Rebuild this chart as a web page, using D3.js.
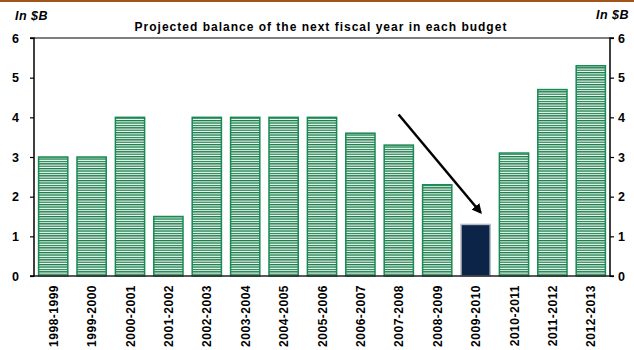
<!DOCTYPE html>
<html>
<head>
<meta charset="utf-8">
<script src="https://cdn.jsdelivr.net/npm/d3@7"></script>
<style>
  html, body { margin: 0; padding: 0; background: #fff; }
  svg { display: block; font-family: "Liberation Sans", Arial, sans-serif; }
</style>
</head>
<body>
<svg id="chart" width="634" height="350"></svg>
<script>
// Fiscal years and projected balance of the following year (in $B)
const years = ["1998-1999","1999-2000","2000-2001","2001-2002","2002-2003","2003-2004","2004-2005",
               "2005-2006","2006-2007","2007-2008","2008-2009","2009-2010","2010-2011","2011-2012","2012-2013"];
const balances = [3, 3, 4, 1.5, 4, 4, 4, 4, 3.6, 3.3, 2.3, 1.3, 3.1, 4.7, 5.3];
const highlightYear = "2009-2010";
const yTicks = [0, 1, 2, 3, 4, 5, 6];
const titleText = "Projected balance of the next fiscal year in each budget";
const unitText = "In $B";

const svg = d3.select("#chart");
const W = 634, H = 350;
const m = { left: 34, right: 24, top: 38, bottom: 74 };
const innerW = W - m.left - m.right;
const innerH = H - m.top - m.bottom;

// Horizontal stripe fill for the regular bars
const defs = svg.append("defs");
const pat = defs.append("pattern")
  .attr("id", "stripes")
  .attr("patternUnits", "userSpaceOnUse")
  .attr("width", 8).attr("height", 2.4);
pat.append("rect").attr("width", 8).attr("height", 2.4).attr("fill", "#fff");
pat.append("rect").attr("y", 0).attr("width", 8).attr("height", 1.3).attr("fill", "#137a46");

// Brown rule along the top edge
svg.append("line")
  .attr("x1", 0).attr("x2", W).attr("y1", 1).attr("y2", 1)
  .attr("stroke", "#a3561c").attr("stroke-width", 2);

const x = d3.scaleBand().domain(years).range([m.left, m.left + innerW]).paddingInner(0.2).paddingOuter(0.1);
const y = d3.scaleLinear().domain([0, 6]).range([m.top + innerH, m.top]);

// Bars
svg.append("g").selectAll("rect")
  .data(years.map((yr, i) => ({ yr, v: balances[i] })))
  .join("rect")
  .attr("x", d => x(d.yr) + 0.75)
  .attr("width", x.bandwidth() - 1.5)
  .attr("y", d => y(d.v))
  .attr("height", d => y(0) - y(d.v))
  .attr("fill", d => d.yr === highlightYear ? "#0b2448" : "url(#stripes)")
  .attr("stroke", d => d.yr === highlightYear ? "#b8bcc4" : "#178a52")
  .attr("stroke-width", 1.5);

// Plot frame: top border
svg.append("line")
  .attr("x1", m.left).attr("x2", m.left + innerW)
  .attr("y1", y(6)).attr("y2", y(6))
  .attr("stroke", "#000").attr("stroke-width", 1.2);

// Baseline
svg.append("line")
  .attr("x1", m.left).attr("x2", m.left + innerW)
  .attr("y1", y(0)).attr("y2", y(0))
  .attr("stroke", "#222").attr("stroke-width", 1.5);

// Left and right value axes
const leftAxis = d3.axisLeft(y).tickValues(yTicks).tickFormat(d3.format("d")).tickSize(4).tickPadding(11);
const rightAxis = d3.axisRight(y).tickValues(yTicks).tickFormat(d3.format("d")).tickSize(4).tickPadding(4);

function styleAxis(g) {
  g.select(".domain").attr("stroke", "#000").attr("stroke-width", 1.5);
  g.selectAll(".tick line").attr("stroke", "#000").attr("stroke-width", 1.2);
  g.selectAll(".tick text")
    .attr("fill", "#000").attr("font-size", 12.5).attr("font-weight", "bold")
    .attr("font-family", "Liberation Sans, Arial, sans-serif");
}
svg.append("g").attr("transform", `translate(${m.left},0)`).call(leftAxis).call(styleAxis)
  .call(g => g.select(".domain").attr("d", `M-4,${y(6)}H0V${y(0)}H-4`));
svg.append("g").attr("transform", `translate(${m.left + innerW},0)`).call(rightAxis).call(styleAxis)
  .call(g => g.select(".domain").attr("d", `M4,${y(6)}H0V${y(0)}H4`));

// Category labels, rotated
svg.append("g").selectAll("text")
  .data(years)
  .join("text")
  .attr("transform", d => `translate(${x(d) + x.bandwidth() / 2 + 4.5},${y(0) + 9}) rotate(-90)`)
  .attr("text-anchor", "end")
  .attr("font-size", 12).attr("font-weight", "bold")
  .attr("letter-spacing", 0.5)
  .text(d => d);

// Title
svg.append("text")
  .attr("x", 321).attr("y", 31)
  .attr("text-anchor", "middle")
  .attr("font-size", 12).attr("font-weight", "bold")
  .attr("letter-spacing", 1)
  .text(titleText);

// Unit labels
svg.append("text").attr("x", 15).attr("y", 20)
  .attr("font-size", 12.5).attr("font-weight", "bold").attr("font-style", "italic")
  .attr("letter-spacing", 0.5)
  .text(unitText);
svg.append("text").attr("x", 629).attr("y", 19).attr("text-anchor", "end")
  .attr("font-size", 12.5).attr("font-weight", "bold").attr("font-style", "italic")
  .attr("letter-spacing", 0.5)
  .text(unitText);

// Arrow pointing down to the highlighted year
defs.append("marker")
  .attr("id", "head").attr("viewBox", "0 0 10 10")
  .attr("refX", 8).attr("refY", 5)
  .attr("markerWidth", 4).attr("markerHeight", 4)
  .attr("orient", "auto")
  .append("path").attr("d", "M0,0L10,5L0,10z").attr("fill", "#000");

const hx = x(highlightYear) + x.bandwidth() / 2;
const hv = balances[years.indexOf(highlightYear)];
svg.append("line")
  .attr("x1", hx - 77).attr("y1", y(hv) - 110)
  .attr("x2", hx + 5).attr("y2", y(hv) - 12)
  .attr("stroke", "#000").attr("stroke-width", 2.5)
  .attr("marker-end", "url(#head)");
</script>
</body>
</html>
